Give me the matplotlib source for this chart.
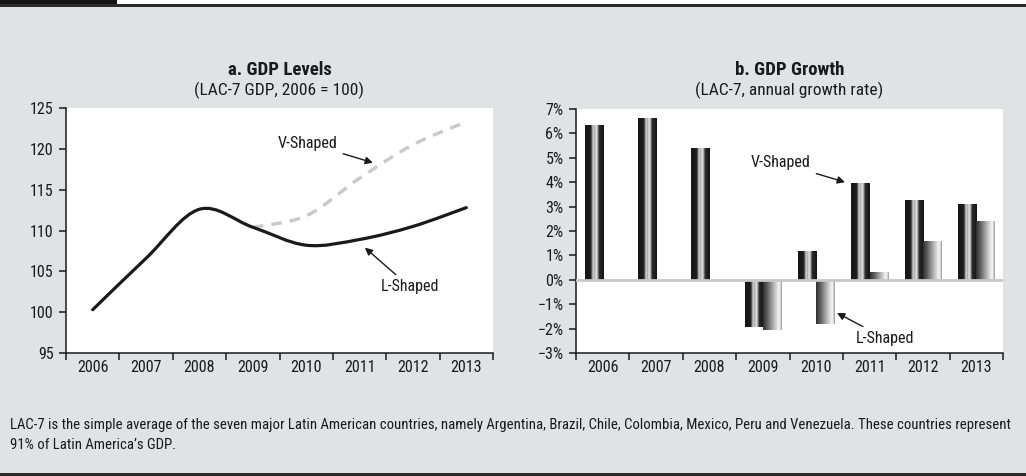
import numpy as np
import matplotlib
matplotlib.use("Agg")
import matplotlib.pyplot as plt
from matplotlib import font_manager
from matplotlib.path import Path
from matplotlib.patches import PathPatch, Rectangle
from matplotlib.colors import LinearSegmentedColormap

years = ["2006", "2007", "2008", "2009", "2010", "2011", "2012", "2013"]

# panel a: GDP levels (2006 = 100)
l_levels = [100.3, 106.6, 112.6, 110.4, 108.2, 108.9, 110.5, 112.8]
v_levels = [np.nan, np.nan, np.nan, 110.4, 111.8, 116.4, 120.5, 123.3]

# panel b: annual growth (%)
v_growth = [6.35, 6.65, 5.4, -1.95, 1.2, 3.97, 3.28, 3.12]
l_growth = [np.nan, np.nan, np.nan, -2.07, -1.83, 0.32, 1.6, 2.42]

level_ticks = [95, 100, 105, 110, 115, 120, 125]
growth_ticks = [-3, -2, -1, 0, 1, 2, 3, 4, 5, 6, 7]
growth_labels = ["\u22123%", "\u22122%", "\u22121%", "0%", "1%", "2%", "3%", "4%", "5%", "6%", "7%"]

note = ("LAC-7 is the simple average of the seven major Latin American countries, namely Argentina, Brazil, Chile, "
        "Colombia, Mexico, Peru and Venezuela. These countries represent\n91% of Latin America\u2019s GDP.")

# pick a narrow face if one is around
names = {f.name for f in font_manager.fontManager.ttflist}
narrow = [n for n in ["Liberation Sans Narrow", "Roboto Condensed", "Open Sans Condensed", "DejaVu Sans Condensed"]
          if n in names]
font = narrow + ["DejaVu Sans"]
plt.rcParams["font.family"] = font
plt.rcParams["font.stretch"] = "condensed"

ink = "#1a1a1a"
bg = "#e1e2e4"
W, H = 1026, 476
fig = plt.figure(figsize=(W / 100, H / 100), dpi=100, facecolor=bg)


def px_axes(x0, y0, x1, y1):
    return fig.add_axes([x0 / W, 1 - y1 / H, (x1 - x0) / W, (y1 - y0) / H])


def smooth_path(xs, ys):
    pts = [(x, y) for x, y in zip(xs, ys) if not np.isnan(y)]
    pts = np.array(pts, dtype=float)
    ext = np.vstack([pts[0], pts, pts[-1]])
    verts = [tuple(pts[0])]
    codes = [Path.MOVETO]
    for i in range(1, len(ext) - 2):
        p0, p1, p2, p3 = ext[i - 1], ext[i], ext[i + 1], ext[i + 2]
        c1 = p1 + (p2 - p0) / 6.0
        c2 = p2 - (p3 - p1) / 6.0
        verts += [tuple(c1), tuple(c2), tuple(p2)]
        codes += [Path.CURVE4] * 3
    return Path(verts, codes)


def style_axis(ax):
    ax.set_facecolor("white")
    for side in ["top", "right"]:
        ax.spines[side].set_visible(False)
    for side in ["left", "bottom"]:
        ax.spines[side].set_color(ink)
        ax.spines[side].set_linewidth(1.1)
    ax.set_xlim(-0.5, 7.5)
    ax.set_xticks(np.arange(-0.5, 8.0, 1.0))
    ax.set_xticklabels([])
    ax.set_xticks(np.arange(8), minor=True)
    ax.set_xticklabels(years, minor=True, fontsize=11.5, color=ink)
    ax.tick_params(axis="x", which="major", length=5, width=1.1, color=ink)
    ax.tick_params(axis="x", which="minor", length=0, pad=5)
    ax.tick_params(axis="y", length=5, width=1.1, color=ink, labelsize=11.5, labelcolor=ink, pad=4)


# ---- panel a ----
ax1 = px_axes(66, 108, 493, 353)
style_axis(ax1)
x = np.arange(len(years))
ax1.add_patch(PathPatch(smooth_path(x, v_levels), fill=False, edgecolor="#c9c9c9", lw=2.4,
                        linestyle=(0, (3.2, 2.4)), capstyle="butt", zorder=2))
ax1.add_patch(PathPatch(smooth_path(x, l_levels), fill=False, edgecolor=ink, lw=2.3,
                        capstyle="round", joinstyle="round", zorder=3))
ax1.set_ylim(95, 125)
ax1.set_yticks(level_ticks)

arrow = dict(arrowstyle="-|>", color=ink, lw=1.0, mutation_scale=11, shrinkA=2, shrinkB=0)
ax1.annotate("V-Shaped", xy=(5.25, 118.3), xytext=(4.03, 120.7), ha="center", va="center",
             fontsize=11.5, color=ink, arrowprops=arrow)
ax1.annotate("L-Shaped", xy=(5.1, 107.9), xytext=(5.94, 103.1), ha="center", va="center",
             fontsize=11.5, color=ink, arrowprops=arrow)

# ---- panel b ----
ax2 = px_axes(576, 109, 1003, 353)
style_axis(ax2)
width = 0.34
v_cmap = LinearSegmentedColormap.from_list("v", [
    (0.0, "#161616"), (0.30, "#1c1c1c"), (0.36, "#707070"), (0.43, "#dadada"), (0.51, "#a0a0a0"),
    (0.59, "#eeeeee"), (0.67, "#a8a8a8"), (0.75, "#2a2a2a"), (1.0, "#151515")])
l_cmap = LinearSegmentedColormap.from_list("l", [
    (0.0, "#303030"), (0.22, "#5e5e5e"), (0.52, "#a8a8a8"), (0.78, "#e8e8e8"), (0.88, "#f8f8f8"),
    (1.0, "#9a9a9a")])
grad = np.linspace(0, 1, 64).reshape(1, -1)

v_bars = ax2.bar(x - width / 2, v_growth, width, color="none", edgecolor="none", zorder=2)
l_bars = ax2.bar(x + width / 2, l_growth, width, color="none", edgecolor="none", zorder=2)
for bars, cmap in [(v_bars, v_cmap), (l_bars, l_cmap)]:
    for b in bars:
        h = b.get_height()
        if np.isnan(h):
            continue
        x0 = b.get_x()
        y0 = b.get_y()
        img = ax2.imshow(grad, cmap=cmap, extent=(x0, x0 + b.get_width(), min(y0, y0 + h), max(y0, y0 + h)),
                         aspect="auto", origin="lower", zorder=2, interpolation="bilinear")
        img.set_clip_path(b)

ax2.axhline(0, color="#c8c8c8", lw=2.0, zorder=3)
ax2.set_xlim(-0.5, 7.5)
ax2.set_ylim(-3, 7)
ax2.set_yticks(growth_ticks)
ax2.set_yticklabels(growth_labels)

ax2.annotate("V-Shaped", xy=(4.54, 4.0), xytext=(3.34, 4.79), ha="center", va="center",
             fontsize=11.5, color=ink, arrowprops=arrow)
ax2.annotate("L-Shaped", xy=(4.39, -1.36), xytext=(5.29, -2.39), ha="center", va="center",
             fontsize=11.5, color=ink, arrowprops=arrow)

# ---- titles ----
fig.text(279.5 / W, 1 - 70 / H, "a. GDP Levels", ha="center", va="center", fontsize=13.5, fontweight="bold",
         color=ink)
fig.text(279.5 / W, 1 - 90 / H, "(LAC-7 GDP, 2006 = 100)", ha="center", va="center", fontsize=12.5,
         color=ink)
fig.text(789.5 / W, 1 - 70 / H, "b. GDP Growth", ha="center", va="center", fontsize=13.5, fontweight="bold",
         color=ink)
fig.text(789.5 / W, 1 - 90 / H, "(LAC-7, annual growth rate)", ha="center", va="center", fontsize=12.5,
         color=ink)

# footnote: shrink until it fits the page width
size = 12.0
foot = fig.text(10 / W, 1 - 435 / H, note, ha="left", va="center", fontsize=size, color=ink,
                linespacing=1.6)
renderer = fig.canvas.get_renderer()
while foot.get_window_extent(renderer).x1 > 1011 and size > 5:
    size -= 0.1
    foot.set_fontsize(size)

# ---- frame decorations ----
fig.add_artist(Rectangle((0, 1 - 4 / H), 1, 4 / H, transform=fig.transFigure, color="white", lw=0))
fig.add_artist(Rectangle((0, 1 - 4 / H), 117 / W, 4 / H, transform=fig.transFigure, color="#141414", lw=0))
fig.add_artist(Rectangle((0, 1 - 6.5 / H), 1, 2.5 / H, transform=fig.transFigure, color="#2a2a2a", lw=0))
fig.add_artist(Rectangle((0, 1 - 476 / H), 1, 3 / H, transform=fig.transFigure, color="#2a2a2a", lw=0))

fig.savefig("out.png", dpi=100, facecolor=bg)
